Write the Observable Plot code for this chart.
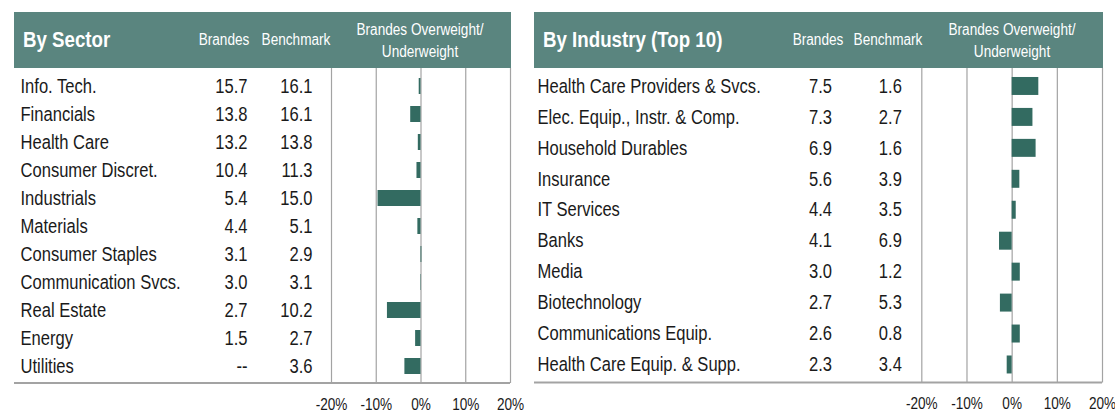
<!DOCTYPE html>
<html><head><meta charset="utf-8">
<script src="https://cdn.jsdelivr.net/npm/d3@7"></script>
<script src="https://cdn.jsdelivr.net/npm/@observablehq/plot@0.6"></script>
<style>
body{margin:0;background:#fff;font-family:"Liberation Sans",Arial,sans-serif;}
.panel{position:absolute;top:12px;}
.head{position:relative;height:56px;background:#5a857f;color:#fff;}
.head span{position:absolute;white-space:nowrap;font-size:16px;line-height:22px;}
.head .title{font-size:22px;font-weight:bold;top:28px;transform:translateY(-50%) scaleX(0.85);transform-origin:left center;line-height:26px;}
.head .col{top:28px;transform:translate(-50%,-50%) scaleX(0.85);}
.head .ow{top:7px;transform:translateX(-50%) scaleX(0.85);text-align:center;}
svg{overflow:visible;}
</style></head><body>
<div id="left" class="panel" style="left:14px;width:497px"></div>
<div id="right" class="panel" style="left:534px;width:569px"></div>
<script>
// ---- data ----
const sectors = ["Info. Tech.","Financials","Health Care","Consumer Discret.","Industrials","Materials","Consumer Staples","Communication Svcs.","Real Estate","Energy","Utilities"];
const sectorBrandes = ["15.7","13.8","13.2","10.4","5.4","4.4","3.1","3.0","2.7","1.5","--"];
const sectorBenchmark = ["16.1","16.1","13.8","11.3","15.0","5.1","2.9","3.1","10.2","2.7","3.6"];
const sectorActive = [-0.4,-2.3,-0.6,-0.9,-9.6,-0.7,0.2,-0.1,-7.5,-1.2,-3.6];

const industries = ["Health Care Providers & Svcs.","Elec. Equip., Instr. & Comp.","Household Durables","Insurance","IT Services","Banks","Media","Biotechnology","Communications Equip.","Health Care Equip. & Supp."];
const industryBrandes = ["7.5","7.3","6.9","5.6","4.4","4.1","3.0","2.7","2.6","2.3"];
const industryBenchmark = ["1.6","2.7","1.6","3.9","3.5","6.9","1.2","5.3","0.8","3.4"];
const industryActive = [5.9,4.6,5.3,1.7,0.9,-2.8,1.8,-2.6,1.8,-1.1];

const xTicks = [-20,-10,0,10,20];

const FONT = '"Liberation Sans",Arial,sans-serif';
const SQUEEZE = 0.85;

function condense(svg) {
  d3.select(svg).selectAll("text").each(function() {
    const t = d3.select(this);
    const tr = t.attr("transform");
    if (tr) {
      t.attr("transform", tr + ` scale(${SQUEEZE},1)`);
    } else {
      const x = +(t.attr("x") || 0), y = +(t.attr("y") || 0);
      t.attr("x", null).attr("y", null)
       .attr("transform", `translate(${x},${y}) scale(${SQUEEZE},1)`);
    }
  });
}

function panel(id, title, cats, brandes, bench, active, o) {
  const el = document.getElementById(id);
  const head = document.createElement("div");
  head.className = "head";
  head.innerHTML = `<span class="title" style="left:${o.titleX}px">${title}</span>
    <span class="col" style="left:${o.bX}px">Brandes</span>
    <span class="col" style="left:${o.mX}px">Benchmark</span>
    <span class="ow" style="left:${o.owX}px">Brandes Overweight/<br>Underweight</span>`;
  el.appendChild(head);
  const data = cats.map((c,i)=>({cat:c, b:brandes[i], m:bench[i], a:active[i]}));
  const plot = Plot.plot({
    width: o.width, height: 345,
    marginTop: 0, marginBottom: 30, marginLeft: o.ml, marginRight: 1,
    x: {domain: [-20,20], ticks: xTicks, tickFormat: d => d + "%", label: null, tickSize: 0, tickPadding: 15},
    y: {domain: cats, paddingInner: 0.43, paddingOuter: 0.215, axis: null},
    style: {fontFamily: FONT, fontSize: "16px", color: "#1a1a1a", background: "white"},
    marks: [
      Plot.gridX(xTicks, {stroke: "#a3a3a3", strokeOpacity: 1, strokeWidth: 1.2}),
      Plot.barX(data, {x: "a", y: "cat", fill: "#336b61"}),
      Plot.text(data, {y: "cat", text: "cat", frameAnchor: "left", textAnchor: "start", dx: o.labelDx, fontSize: o.fs, fill: "#1a1a1a"}),
      Plot.text(data, {y: "cat", text: "b", frameAnchor: "left", textAnchor: "end", dx: o.bDx, fontSize: o.fs, fill: "#1a1a1a"}),
      Plot.text(data, {y: "cat", text: "m", frameAnchor: "left", textAnchor: "end", dx: o.mDx, fontSize: o.fs, fill: "#1a1a1a"})
    ]
  });
  condense(plot);
  d3.select(plot).append("line")
    .attr("x1", 0).attr("x2", o.width - 1)
    .attr("y1", 315).attr("y2", 315)
    .attr("stroke", "#a3a3a3").attr("stroke-width", 2);
  el.appendChild(plot);
}

panel("left", "By Sector", sectors, sectorBrandes, sectorBenchmark, sectorActive,
  {width: 497, ml: 317, labelDx: -311, bDx: -84, mDx: -19, titleX: 9, bX: 210, mX: 282, owX: 406, fs: 19.5});
panel("right", "By Industry (Top 10)", industries, industryBrandes, industryBenchmark, industryActive,
  {width: 570, ml: 388, labelDx: -385, bDx: -90, mDx: -20, titleX: 9, bX: 284, mX: 354, owX: 478, fs: 19.5});
</script>
</body></html>
